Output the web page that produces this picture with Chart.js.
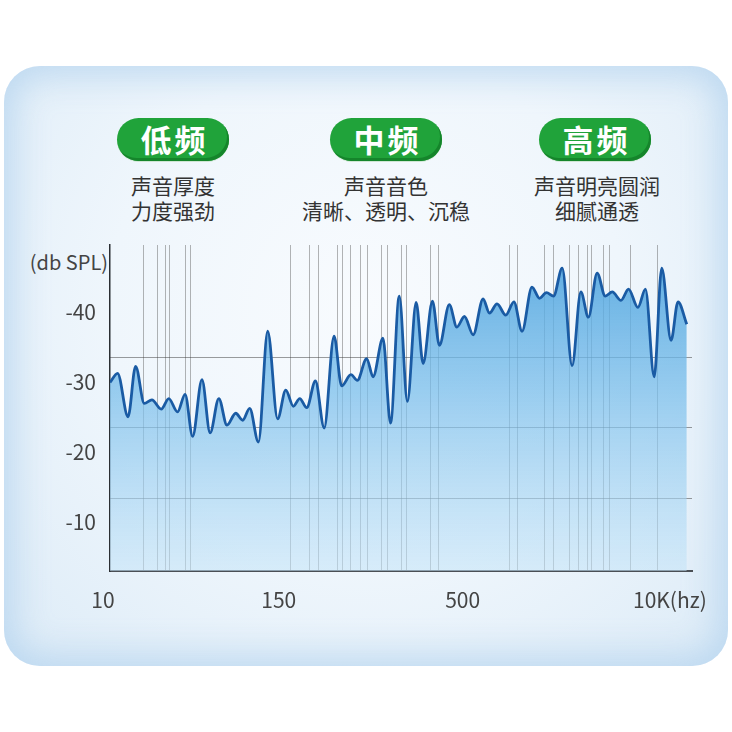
<!DOCTYPE html>
<html lang="zh">
<head>
<meta charset="UTF-8">
<title>频响曲线</title>
<script src="https://cdn.jsdelivr.net/npm/chart.js@4.4.1/dist/chart.umd.min.js"></script>
<style>
  body { margin:0; width:732px; height:732px; background:#fff; overflow:hidden; position:relative;
         font-family:"Noto Sans CJK SC", "Noto Sans", sans-serif; }
  .panel { position:absolute; left:4px; top:66px; width:724px; height:600px; border-radius:36px;
           background: radial-gradient(ellipse at 50% 40%, #f8fbfe 0%, #eff6fc 50%, #dcebf7 100%);
           box-shadow: inset 0 0 34px 10px rgba(178,210,238,0.75); }
  .badge { position:absolute; top:118px; width:112px; height:43px; border-radius:22px;
           background:#20a33a; color:#fff; font-size:31px; font-weight:bold; line-height:42px;
           text-align:center; letter-spacing:3px; text-indent:3px; box-sizing:border-box;
           box-shadow: inset -2px -3px 0 #15852b, 0 1px 0 #cfe6d4; }
  .sub { position:absolute; top:173px; width:260px; text-align:center; color:#333;
         font-size:21px; line-height:25px; }
  .unit { position:absolute; right:624px; top:248px; color:#444; font-size:20px; line-height:28px; }
  #fr { position:absolute; left:0; top:0; }
</style>
</head>
<body>
<div class="panel"></div>

<div class="badge" style="left:117px">低频</div>
<div class="badge" style="left:330px">中频</div>
<div class="badge" style="left:539px">高频</div>

<div class="sub" style="left:43px">声音厚度<br>力度强劲</div>
<div class="sub" style="left:256px">声音音色<br>清晰、透明、沉稳</div>
<div class="sub" style="left:467px">声音明亮圆润<br>细腻通透</div>

<div class="unit">(db SPL)</div>

<canvas id="fr" width="732" height="732"></canvas>

<script>
// position along the band (0-100) and level of the response curve
const curveX = [0, 1.3, 3.1, 4.4, 5.9, 7.2, 8.8, 10.1, 11.6, 12.9, 14.2, 15.8, 17.2, 18.7, 20.1, 21.6, 22.8, 24.0,
                25.5, 27.1, 28.8, 30.2, 31.5, 32.6, 33.8, 35.3, 36.8, 38.5, 39.8, 41.4, 42.5, 44.1, 45.2, 46.9,
                48.2, 49.7, 51.1, 52.6, 53.8, 55.4, 56.6, 58.3, 59.6, 60.9, 62.4, 64.1, 65.2, 66.5, 68.0, 69.4,
                70.8, 72.5, 73.8, 75.0, 76.2, 77.7, 79.4, 80.9, 82.2, 83.7, 85.1, 86.3, 87.8, 89.1, 90.7, 92.0,
                93.5, 94.8, 96.4, 97.6, 99.1];
const curveY = [29.9, 31.2, 25.0, 32.2, 26.9, 27.4, 26.1, 27.6, 25.7, 28.2, 22.2, 30.3, 22.7, 27.6, 23.8, 25.5, 24.5, 26.2,
                21.4, 37.2, 24.7, 28.8, 26.5, 27.6, 26.3, 30.1, 23.4, 36.5, 29.4, 31.0, 30.2, 33.3, 30.7, 36.2,
                24.1, 42.2, 27.2, 41.3, 32.6, 41.5, 35.2, 41.0, 37.8, 39.3, 36.7, 41.8, 39.8, 41.1, 39.5, 41.4,
                37.2, 43.5, 41.9, 42.7, 42.2, 46.2, 32.3, 42.8, 39.2, 45.5, 42.2, 42.8, 41.6, 43.2, 40.6, 43.2,
                30.7, 46.2, 35.9, 41.4, 38.2];

// thin frequency marker lines
const markerX = [5.7, 8.1, 9.5, 10.3, 13.0, 13.75, 31.05, 34.3, 35.85, 39.1, 40.0, 41.35, 43.1, 44.2, 46.7, 47.65,
                 50.1, 51.0, 55.1, 56.4, 68.7, 70.0, 74.6, 76.2, 79.0, 80.5, 82.1, 82.8, 84.8, 85.8, 89.35, 94.0];
const gridY = [13.4, 23.4, 33.4];

const yTickValues = [10, 20, 30, 40];
const yTickLabels = ['-10', '-20', '-30', '-40'];
const xTickValues = [-1.2, 29.0, 60.6, 96.2];
const xTickLabels = ['10', '150', '500', '10K(hz)'];

const font = '"Noto Sans CJK SC", "Noto Sans", sans-serif';

const ctx = document.getElementById('fr').getContext('2d');
new Chart(ctx, {
    type: 'line',
    data: {
        datasets: [{
            data: curveX.map((x, i) => ({ x: x, y: curveY[i] })),
            borderColor: '#1a5ba4',
            borderWidth: 2.8,
            pointRadius: 0,
            cubicInterpolationMode: 'monotone',
            fill: 'start',
            backgroundColor: function (c) {
                const a = c.chart.chartArea;
                if (!a) return 'rgba(120,190,235,0.6)';
                const g = c.chart.ctx.createLinearGradient(0, a.top, 0, a.bottom);
                g.addColorStop(0, 'rgba(72,160,220,0.9)');
                g.addColorStop(0.45, 'rgba(118,188,234,0.72)');
                g.addColorStop(1, 'rgba(196,228,248,0.55)');
                return g;
            }
        }]
    },
    options: {
        responsive: false,
        animation: false,
        layout: { padding: { left: 0, top: 245, right: 40, bottom: 0 } },
        plugins: { legend: { display: false }, tooltip: { enabled: false } },
        scales: {
            x: {
                type: 'linear', min: 0, max: 100, position: 'bottom',
                grid: { display: false, drawTicks: false },
                border: { display: true, color: '#4a4f55', width: 2 },
                ticks: {
                    autoSkip: false, maxRotation: 0, padding: 16, color: '#444',
                    font: { size: 21, family: font },
                    callback: (v, i) => xTickLabels[i]
                },
                afterBuildTicks: s => { s.ticks = xTickValues.map(v => ({ value: v })); },
                afterFit: s => { s.height = 161; }
            },
            xg: {
                type: 'linear', min: 0, max: 100, position: 'bottom',
                grid: { color: 'rgba(90,90,90,0.45)', lineWidth: 1, drawTicks: false },
                border: { display: false },
                ticks: { display: false },
                afterBuildTicks: s => { s.ticks = markerX.map(v => ({ value: v })); },
                afterFit: s => { s.height = 0; }
            },
            y: {
                type: 'linear', min: 3, max: 49.5, position: 'left',
                grid: { display: false, drawTicks: false },
                border: { display: true, color: '#2b2f33', width: 1.5 },
                ticks: {
                    padding: 14, color: '#444',
                    font: { size: 21, family: font },
                    callback: (v, i) => yTickLabels[i]
                },
                afterBuildTicks: s => { s.ticks = yTickValues.map(v => ({ value: v })); },
                afterFit: s => { s.width = 110; }
            },
            y2: {
                type: 'linear', min: 3, max: 49.5, position: 'left',
                grid: { color: 'rgba(60,60,60,0.5)', lineWidth: 1, drawTicks: false },
                border: { display: false },
                ticks: { display: false },
                afterBuildTicks: s => { s.ticks = gridY.map(v => ({ value: v })); },
                afterFit: s => { s.width = 0; }
            }
        }
    }
});
</script>
</body>
</html>
